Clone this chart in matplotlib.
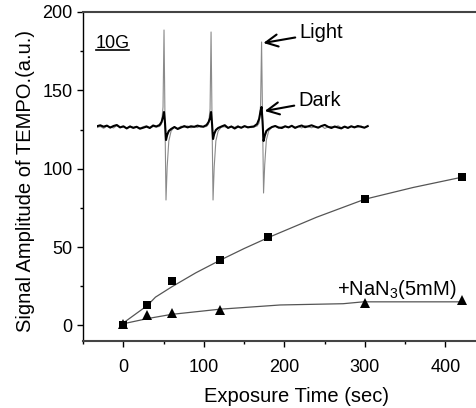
import numpy as np
import matplotlib
matplotlib.use('Agg')
import matplotlib.pyplot as plt
from matplotlib.ticker import MultipleLocator

plt.rcParams['font.family'] = ['Liberation Sans', 'DejaVu Sans']
plt.rcParams['mathtext.fontset'] = 'custom'
plt.rcParams['mathtext.rm'] = 'Liberation Sans'

# exposure data (sec, a.u.)
t_sq = [0, 30, 60, 120, 180, 300, 420]
v_sq = [0, 12.7, 28.6, 41.8, 56.3, 80.5, 94.5]
t_tr = [0, 30, 60, 120, 300, 420]
v_tr = [0.8, 6.4, 7.9, 10.0, 14.3, 15.9]

# fitted curves
fit_sq_t = [0, 30, 40, 60, 90, 120, 150, 180, 240, 300, 360, 420]
fit_sq_v = [1.5, 12.7, 18.0, 24.5, 33.5, 41.5, 49.0, 56.0, 69.0, 80.5, 88.0, 94.5]
fit_tr_t = [0, 30, 60, 120, 195, 273, 298, 420]
fit_tr_v = [1.0, 4.3, 7.0, 10.3, 13.0, 13.8, 15.0, 15.0]

# EPR inset spectrum (field in G, amplitude arbitrary)
line_pos = [20.45, 34.7, 50.0]
line_off = [-2.5, -1.5, -0.9, -0.45, -0.15, 0.15, 0.45, 0.8, 1.3, 2.0, 3.0]
light_lines = [
    [0, 0.5, 3, 20, 97, 5, -73, -40, -14, -4, 0],
    [0, 0.5, 3, 18, 95, 5, -73, -40, -14, -4, 0],
    [0, 1, 4, 22, 85, 8, -66, -38, -13, -4, 0],
]
dark_lines = [
    [0.5, 2, 5, 10, 15, 4, -13, -8, -4, -2, 0],
    [0.3, 2, 5, 9, 15, 3, -12, -7, -3, -1, 0.5],
    [0.5, 3, 8, 16, 20, 5, -14, -9, -4, -2, 0],
]
dark_noise = [0.8, 1.7, 0.3, 1.4, -0.6, 1.0, 2.0, -0.4, 0.7, -1.4, 0.5, -0.9,
              0.2, -1.7, -0.7, 0.4, -1.0, 1.5, -2.0, -0.5, 0.9, -0.4, 0.7, 0.2,
              1.4, 0.5, 1.8, -0.9, 0.5, -1.5, 0.4, -0.7, 0.9, -0.4, 0.2, 1.0,
              -0.5, -1.0, 0.7, -0.4, 1.2, -0.9, 0.5, 1.5, -0.2, 0.7, 1.7, 0.4,
              -0.7, 1.0, 2.1, 0.2, -1.0, 0.5, -0.5, -1.4, 0.4, -0.9, 0.7, -0.4,
              1.0, 0.2, -0.7, 0.9, -0.2, 0.5, 1.4, 0.4, -0.5, 0.7, 0.2, -0.4]
light_noise = [-0.6, 0.5, -1.3, 0.8, 0.3, -1.0, 1.5, -0.5, 0.2, -1.6, 1.0, -0.3,
               0.6, -1.1, 0.3, 1.3, -0.6, 0.5, -1.5, 0.8, -0.2, 1.1, -0.8, 0.3,
               -0.5, 1.5, 0.2, -1.0, 0.6, -0.3, 1.3, -1.1, 0.5, 0.2, -0.6, 1.0,
               -1.3, 0.3, 0.8, -0.5, 1.1, -0.2, 0.6, -1.0, 1.5, 0.3, -0.8, 0.5,
               -0.3, 1.0, -1.5, 0.2, 0.6, -0.5, 1.3, -0.6, 0.3, -1.1, 0.8, 0.2,
               -0.3, 1.0, -0.8, 0.5, 1.5, -0.2, 0.3, -1.0, 0.6, 0.2, -0.5, 0.8]
field_end = 83.0


def build_trace(lines, noise):
    xs, ys = [], []
    k = 0
    start = 0.0
    for c, vals in zip(line_pos, lines):
        for f in np.arange(start, c + line_off[0] - 0.5, 1.0):
            xs.append(f); ys.append(noise[k]); k += 1
        xs.extend([c + o for o in line_off]); ys.extend(vals)
        start = c + line_off[-1] + 1.0
    for f in np.arange(start, field_end, 1.0):
        xs.append(f); ys.append(noise[k]); k += 1
    return xs, ys


W, H = 476, 408
fig = plt.figure(figsize=(W / 100, H / 100), dpi=100)
ax = fig.add_axes([83 / W, 1 - 341 / H, 393 / W, 329 / H])

ax.plot(fit_sq_t, fit_sq_v, color='#555555', lw=0.9, zorder=2)
ax.plot(fit_tr_t, fit_tr_v, color='#555555', lw=0.9, zorder=2)
ax.plot(t_sq, v_sq, 's', color='black', ms=5.5, mew=0, zorder=3)
ax.plot(t_tr, v_tr, '^', color='black', ms=7, mew=0, zorder=4)

ax.set_xlim(-50, 438)
ax.set_ylim(-10, 200)
ax.xaxis.set_major_locator(MultipleLocator(100))
ax.xaxis.set_minor_locator(MultipleLocator(50))
ax.yaxis.set_major_locator(MultipleLocator(50))
ax.yaxis.set_minor_locator(MultipleLocator(25))
ax.tick_params(which='major', length=4, width=1, labelsize=13)
ax.tick_params(which='minor', length=2.5, width=1)
ax.tick_params(axis='x', which='major', pad=9)
ax.tick_params(axis='y', which='major', pad=3.5)
ax.spines['right'].set_visible(False)
for s in ['top', 'bottom']:
    ax.spines[s].set_linewidth(1.5)
    ax.spines[s].set_color('#444444')
ax.spines['left'].set_linewidth(1.0)

ax.set_ylabel('Signal Amplitude of TEMPO.(a.u.)', fontsize=14.5)
ax.yaxis.set_label_coords(-0.122, 0.486)
ax.set_xlabel('Exposure Time (sec)', fontsize=14.5)
ax.xaxis.set_label_coords(0.542, -0.14)

ax.text(266, 19.5, '+NaN$_3$(5mM)', fontsize=14.5, ha='left', va='baseline')

# inset spectrum
ins = fig.add_axes([97 / W, 1 - 207 / H, 275 / W, 182 / H])
ins.set_xlim(0, 83.3)
ins.set_ylim(-80, 102)
ins.axis('off')
lx, ly = build_trace(light_lines, light_noise)
dx, dy = build_trace(dark_lines, dark_noise)
ins.plot(lx, ly, color='#8a8a8a', lw=0.8)
ins.plot(dx, dy, color='black', lw=1.5)

ins.plot([-0.3, 9.7], [77, 77], color='black', lw=1.2, clip_on=False)
ins.text(4.7, 79.5, '10G', fontsize=13, ha='center', va='baseline')

arrow = dict(arrowstyle='->,head_length=0.6,head_width=0.3', lw=1.5, color='black',
             shrinkA=1, shrinkB=0)
ins.annotate('Light', xy=(50.4, 84), xytext=(61.3, 94), fontsize=14.5,
             ha='left', va='center', arrowprops=arrow, annotation_clip=False)
ins.annotate('Dark', xy=(50.8, 16), xytext=(61.0, 26), fontsize=14.5,
             ha='left', va='center', arrowprops=arrow, annotation_clip=False)

fig.savefig('out.png', dpi=100)
